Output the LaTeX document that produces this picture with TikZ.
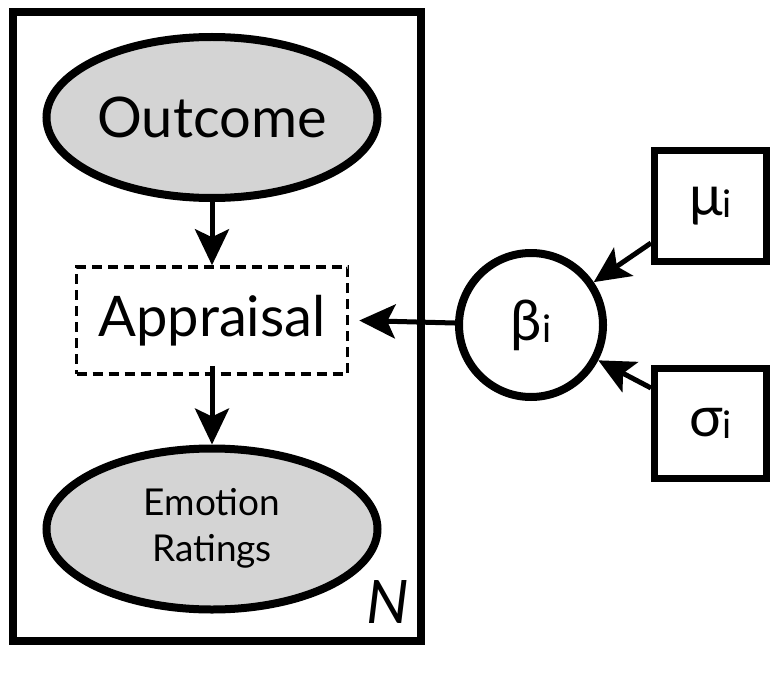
\documentclass[tikz,border=0pt]{standalone}
\usepackage{fontspec}
\setmainfont{Lato}
\usetikzlibrary{arrows.meta,shapes.geometric}
\tikzset{
  obs/.style={ellipse, draw, line width=8pt, fill=black!17, minimum width=331pt, minimum height=161pt, inner sep=0pt},
  latent/.style={draw, dashed, line width=3.5pt, dash pattern=on 10pt off 6pt, minimum width=271pt, minimum height=107pt, inner sep=0pt},
  param/.style={circle, draw, line width=8pt, minimum size=144pt, inner sep=0pt},
  hyper/.style={draw, line width=7pt, minimum width=112pt, minimum height=110pt, inner sep=0pt},
  plate/.style={draw, line width=8pt},
  conn/.style={line width=5pt, -{Stealth[length=36pt, width=34pt, inset=8pt]}},
}
\newcommand{\sub}[1]{\raisebox{-2pt}{\fontsize{38}{38}\selectfont #1}}
\begin{document}
\begin{tikzpicture}[x=1pt, y=-1pt]
\useasboundingbox (0,0) rectangle (783,679);
\draw[plate] (12.5,12.5) rectangle (421,641);
\node[obs] (out) at (212,117.5) {\fontsize{56}{56}\selectfont Outcome};
\node[latent] (app) at (212,320.5) {\fontsize{56}{56}\selectfont Appraisal};
\node[obs] (emo) at (212,529) {\fontsize{37}{45}\selectfont\begin{tabular}{@{}c@{}}Emotion\\[1pt]Ratings\end{tabular}};
\node[anchor=south east, inner sep=0pt] (N) at (409,624) {\fontsize{60}{60}\selectfont\itshape N};
\node[param] (beta) at (531,325) {\fontsize{56}{56}\selectfont β\sub{i}};
\node[hyper] (mu) at (710.5,206) {\fontsize{56}{56}\selectfont μ\sub{i}};
\node[hyper] (sig) at (710.5,423) {\fontsize{56}{56}\selectfont σ\sub{i}};
\draw[conn] ([yshift=6pt]out.south) -- (app.north);
\draw[conn] ([yshift=10pt]app.south) -- (emo.north);
\draw[conn] (beta) -- ([xshift=10pt]app.east);
\draw[conn] (mu.west |- 0,243) coordinate (m1) -- (beta);
\draw[conn] (sig.west |- 0,388) coordinate (s1) -- (beta);
\end{tikzpicture}
\end{document}
